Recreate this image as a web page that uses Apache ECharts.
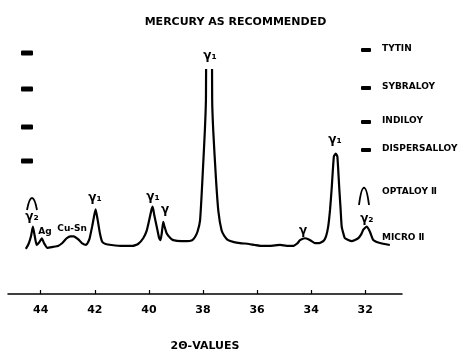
<!DOCTYPE html>
<html>
<head>
<meta charset="utf-8">
<script src="https://cdn.jsdelivr.net/npm/echarts@6/dist/echarts.min.js"></script>
<style>
  html, body { margin: 0; padding: 0; background: #fff; }
  #chart { width: 471px; height: 357px; }
</style>
</head>
<body>
<div id="chart"></div>
<script>
// diffraction trace (2-theta in degrees, counts in arbitrary units)
// the big gamma-1 peak near 37.8 runs off the top of the chart paper
const twoTheta = [
  44.55, 44.45, 44.36, 44.29, 44.22, 44.15, 44.05, 43.96, 43.88, 43.75,
  43.55, 43.36, 43.2, 43.04, 42.9, 42.78, 42.62, 42.48, 42.32, 42.2,
  42.1, 42.02, 41.97, 41.9, 41.81, 41.72, 41.6, 41.38, 41.0, 40.6,
  40.4, 40.21, 40.08, 39.98, 39.9, 39.86, 39.8, 39.71, 39.62, 39.57,
  39.52, 39.47, 39.42, 39.34, 39.2, 39.1, 38.8, 38.6, 38.4, 38.3,
  38.2, 38.11, 38.05, 37.99, 37.93, 37.89, 37.77, 37.66,
  37.62, 37.52, 37.43, 37.31, 37.2, 37.07, 36.85, 36.63, 36.3, 36.08,
  35.8, 35.52, 35.15, 34.9, 34.67, 34.5, 34.41, 34.23, 34.1, 33.98,
  33.86, 33.7, 33.55, 33.45, 33.37, 33.3, 33.24, 33.16, 33.09, 33.03,
  32.96, 32.91, 32.87, 32.8, 32.75, 32.5, 32.26, 32.15, 32.07, 31.95,
  31.83, 31.75, 31.7, 31.46, 31.09
];
const counts = [
  47, 52, 60, 70, 60, 51, 54, 58, 53, 48,
  49, 50, 53, 58, 60, 60, 57, 53, 51, 57,
  70, 82, 88, 78, 63, 54, 52, 51, 50, 50,
  52, 58, 66, 78, 88, 91, 82, 70, 58, 56,
  64, 75, 70, 63, 58, 56, 55, 55, 56, 59,
  65, 76, 103, 136, 170, 203, 900, 203,
  170, 120, 86, 66, 60, 56, 54, 53, 52, 51,
  50, 50, 51, 50, 50, 53, 56, 58, 57, 55,
  53, 53, 55, 60, 70, 88, 110, 143, 146, 143,
  110, 88, 70, 62, 58, 55, 58, 62, 67, 70,
  65, 59, 56, 53, 51
];

// phase labels over the peaks
const peakNames = ['γ₂', 'Ag', 'Cu-Sn', 'γ₁', 'γ₁', 'γ', 'γ₁', 'γ', 'γ₁', 'γ₂'];
const peakTheta = [44.32, 43.84, 42.84, 41.99, 39.85, 39.40, 37.74, 34.30, 33.12, 31.94];
const peakLabelAt = [80, 65, 68, 100, 101, 88, 248, 66, 160, 78];

const tickValues = [44, 42, 40, 38, 36, 34, 32];
const specimens = ['TYTIN', 'SYBRALOY', 'INDILOY', 'DISPERSALLOY', 'OPTALOY Ⅱ', 'MICRO Ⅱ'];

// layout of the specimen key (pixels)
const keyRowY = [50, 88, 122, 150, 193, 239];
const leftMarkY = [53, 89, 127, 161];

const FONT = 'DejaVu Sans';
const INK = '#000';

const chart = echarts.init(document.getElementById('chart'), null, { renderer: 'canvas' });

const trace = twoTheta.map((t, i) => [t, counts[i]]);
const labels = peakNames.map((n, i) => ({
  name: n,
  value: [peakTheta[i], peakLabelAt[i]],
  label: (n === 'Ag' || n === 'Cu-Sn') ? { fontSize: 9 } : undefined
}));

const graphics = [];
specimens.forEach((s, i) => {
  graphics.push({
    type: 'text', left: 382, top: keyRowY[i] - 6,
    style: { text: s, font: 'bold 9px "' + FONT + '"', fill: INK }
  });
  if (i < 4) {
    graphics.push({ type: 'rect', shape: { x: 361, y: keyRowY[i] - 2, width: 10, height: 4, r: 1 }, style: { fill: INK } });
  }
});
leftMarkY.forEach(y => {
  graphics.push({ type: 'rect', shape: { x: 21, y: y - 2.5, width: 12, height: 5, r: 1 }, style: { fill: INK } });
});
// little arches: the OPTALOY II key mark, repeated at the left edge
[[27, 210, 32, 196, 37, 210], [359, 205, 364, 184, 369, 205]].forEach(a => {
  graphics.push({
    type: 'bezierCurve',
    shape: { x1: a[0], y1: a[1], x2: a[4], y2: a[5], cpx1: a[2] - 2, cpy1: a[3] - 2, cpx2: a[2] + 2, cpy2: a[3] - 2 },
    style: { stroke: INK, lineWidth: 1.8, fill: null }
  });
});

chart.setOption({
  animation: false,
  backgroundColor: '#fff',
  title: {
    text: 'MERCURY AS RECOMMENDED',
    left: 'center',
    top: 12,
    textStyle: { fontFamily: FONT, fontWeight: 'bold', fontSize: 11, color: INK }
  },
  grid: { left: 8, right: 69, top: 70, bottom: 54 },
  xAxis: {
    type: 'value',
    inverse: true,
    min: 30.64,
    max: 45.21,
    name: '2Θ-VALUES',
    nameLocation: 'middle',
    nameGap: 47,
    nameTextStyle: { fontFamily: FONT, fontWeight: 'bold', fontSize: 11, color: INK },
    axisLine: { lineStyle: { color: INK, width: 1.5 } },
    axisTick: { inside: true, length: 4, customValues: tickValues, lineStyle: { color: INK, width: 1.2 } },
    axisLabel: {
      customValues: tickValues, margin: 11,
      fontFamily: FONT, fontWeight: 'bold', fontSize: 11, color: INK
    },
    splitLine: { show: false }
  },
  yAxis: { type: 'value', min: 0, max: 233, show: false },
  series: [
    {
      name: 'trace',
      type: 'line',
      data: trace,
      symbol: 'none',
      smooth: 0.15,
      lineStyle: { color: INK, width: 2.2 }
    },
    {
      name: 'peaks',
      type: 'scatter',
      data: labels,
      symbolSize: 0,
      clip: false,
      silent: true,
      itemStyle: { opacity: 1, color: INK },
      label: {
        show: true,
        position: 'inside',
        formatter: '{b}',
        fontFamily: FONT,
        fontWeight: 'bold',
        fontSize: 12,
        color: INK
      }
    }
  ],
  graphic: graphics
});

window.addEventListener('resize', () => chart.resize());
</script>
</body>
</html>
